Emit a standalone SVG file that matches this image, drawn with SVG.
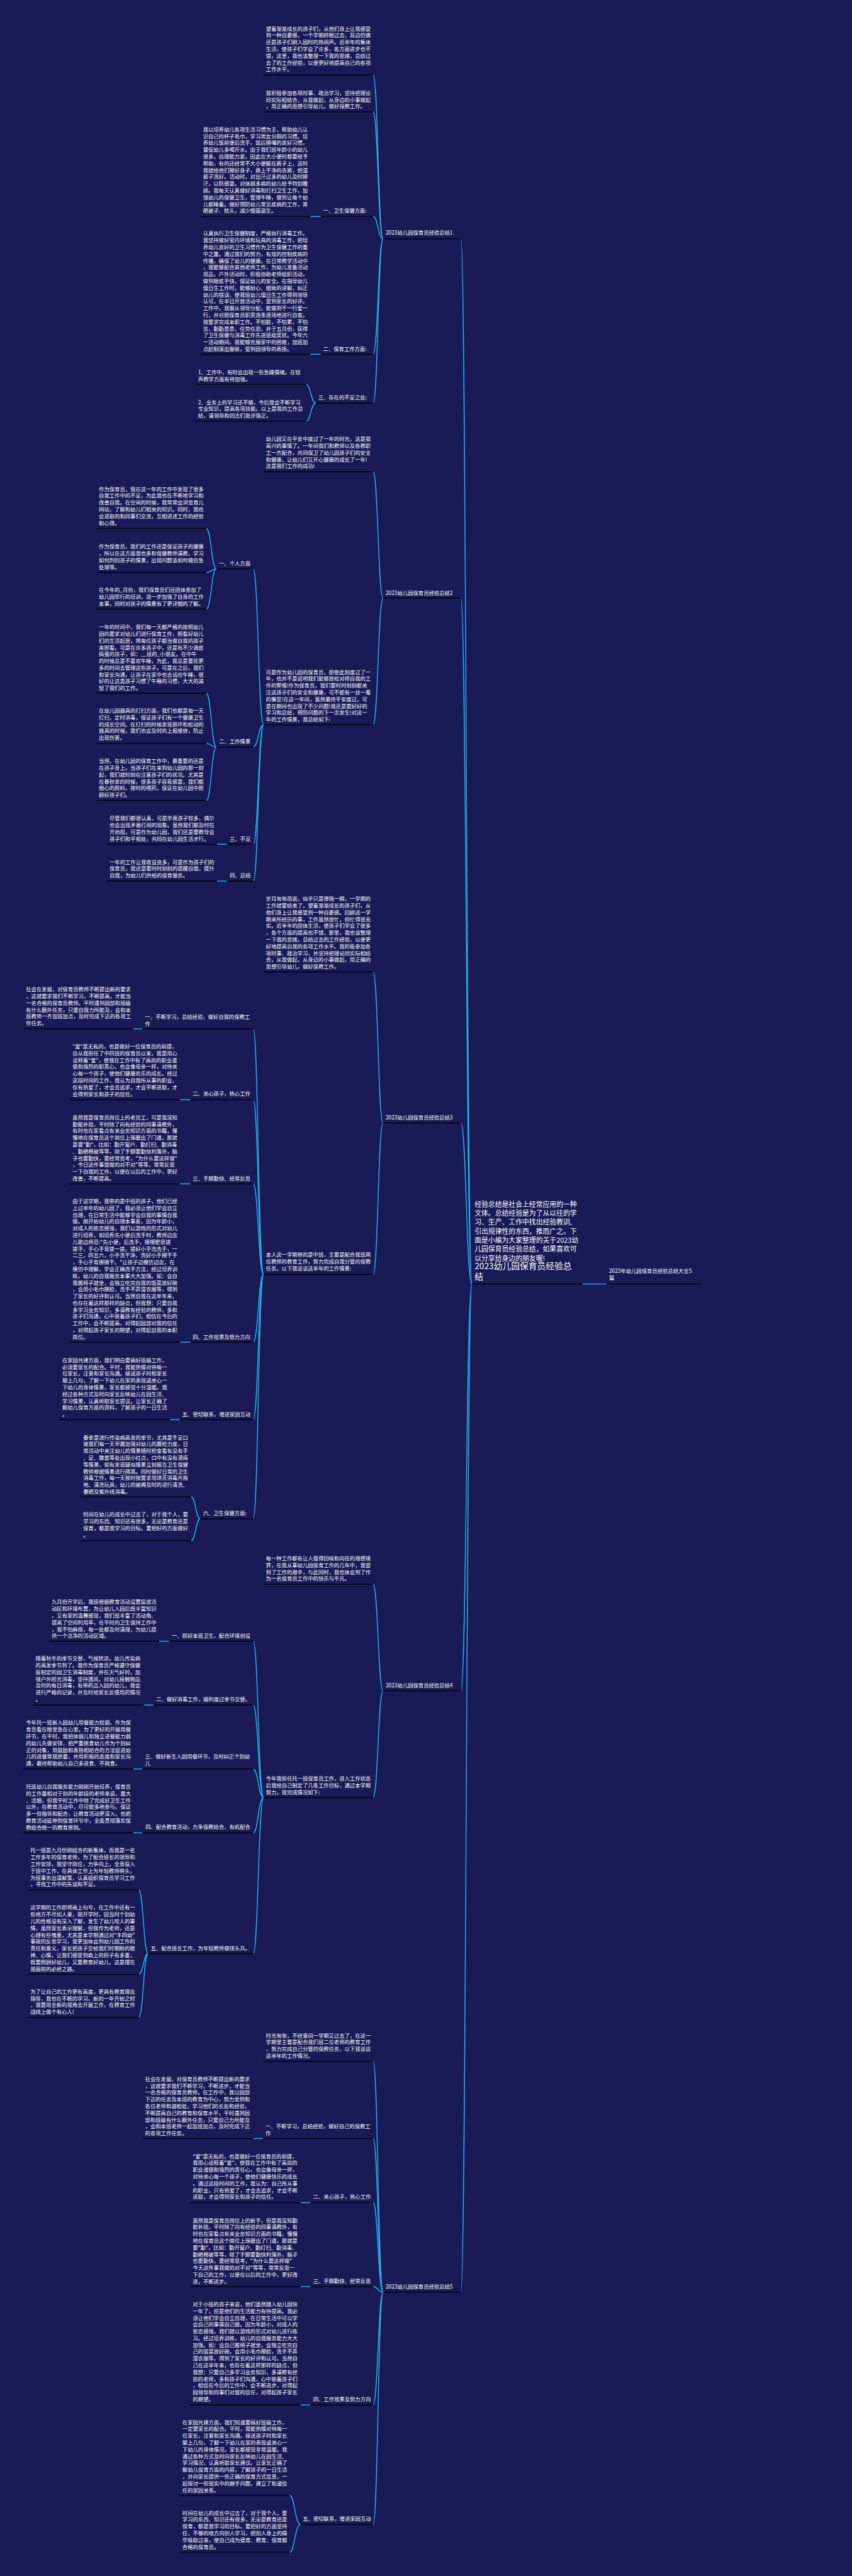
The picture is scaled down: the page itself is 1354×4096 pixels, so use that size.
<svg xmlns="http://www.w3.org/2000/svg" width="1354" height="4096" viewBox="0 0 1354 4096">
<style>
.t{font-family:"Noto Sans CJK SC","Liberation Sans",sans-serif;font-size:15.75px;fill:#ffffff}
.rd{font-family:"Noto Sans CJK SC","Liberation Sans",sans-serif;font-size:20.5px;fill:#ffffff}
.rt{font-family:"Noto Sans CJK SC","Liberation Sans",sans-serif;font-size:26px;fill:#ffffff}
.u{stroke:#06061c;stroke-width:3.5}
.c{fill:none;stroke:#27b6ef;stroke-width:2.6}
</style>
<rect x="0" y="0" width="1354" height="4096" fill="#1a1a57"/>
<g transform="scale(0.52891)">
<g id="connectors">
<path class="c" d="M1418 3860 C1401 3860 1401 718 1385 718"/>
<path class="c" d="M1418 3860 C1401 3860 1401 1798 1385 1798"/>
<path class="c" d="M1418 3860 C1401 3860 1401 3376 1385 3376"/>
<path class="c" d="M1418 3860 C1401 3860 1401 5083 1385 5083"/>
<path class="c" d="M1418 3860 C1401 3860 1401 6891 1385 6891"/>
<path class="c" d="M1822 3860 L1750 3860"/>
<path class="c" d="M1151 718 C1136 718 1136 225 1121 225"/>
<path class="c" d="M1151 718 C1136 718 1136 336 1121 336"/>
<path class="c" d="M1151 718 C1136 718 1136 651 1121 651"/>
<path class="c" d="M1151 718 C1136 718 1136 1065 1121 1065"/>
<path class="c" d="M1151 718 C1136 718 1136 1212 1121 1212"/>
<path class="c" d="M964 651 L933 651"/>
<path class="c" d="M964 1065 L933 1065"/>
<path class="c" d="M949 1212 C934 1212 934 1156 920 1156"/>
<path class="c" d="M949 1212 C934 1212 934 1266 920 1266"/>
<path class="c" d="M1151 1798 C1136 1798 1136 1418 1121 1418"/>
<path class="c" d="M1151 1798 C1136 1798 1136 2179 1121 2179"/>
<path class="c" d="M792 2179 C776 2179 776 1710 761 1710"/>
<path class="c" d="M792 2179 C776 2179 776 2246 761 2246"/>
<path class="c" d="M792 2179 C776 2179 776 2538 761 2538"/>
<path class="c" d="M792 2179 C776 2179 776 2649 761 2649"/>
<path class="c" d="M650 1710 C635 1710 635 1589 620 1589"/>
<path class="c" d="M650 1710 C635 1710 635 1721 620 1721"/>
<path class="c" d="M650 1710 C635 1710 635 1831 620 1831"/>
<path class="c" d="M650 2246 C635 2246 635 2084 620 2084"/>
<path class="c" d="M650 2246 C635 2246 635 2235 620 2235"/>
<path class="c" d="M650 2246 C635 2246 635 2407 620 2407"/>
<path class="c" d="M682 2538 L652 2538"/>
<path class="c" d="M682 2649 L652 2649"/>
<path class="c" d="M1151 3376 C1136 3376 1136 2922 1121 2922"/>
<path class="c" d="M1151 3376 C1136 3376 1136 3831 1121 3831"/>
<path class="c" d="M792 3831 C776 3831 776 3093 761 3093"/>
<path class="c" d="M792 3831 C776 3831 776 3306 761 3306"/>
<path class="c" d="M792 3831 C776 3831 776 3559 761 3559"/>
<path class="c" d="M792 3831 C776 3831 776 4035 761 4035"/>
<path class="c" d="M792 3831 C776 3831 776 4268 761 4268"/>
<path class="c" d="M792 3831 C776 3831 776 4566 761 4566"/>
<path class="c" d="M428 3093 L400 3093"/>
<path class="c" d="M572 3306 L541 3306"/>
<path class="c" d="M572 3559 L541 3559"/>
<path class="c" d="M572 4035 L541 4035"/>
<path class="c" d="M540 4268 L511 4268"/>
<path class="c" d="M602 4566 C588 4566 588 4500 574 4500"/>
<path class="c" d="M602 4566 C588 4566 588 4632 574 4632"/>
<path class="c" d="M1151 5083 C1136 5083 1136 4763 1121 4763"/>
<path class="c" d="M1151 5083 C1136 5083 1136 5404 1121 5404"/>
<path class="c" d="M792 5404 C776 5404 776 4934 761 4934"/>
<path class="c" d="M792 5404 C776 5404 776 5126 761 5126"/>
<path class="c" d="M792 5404 C776 5404 776 5318 761 5318"/>
<path class="c" d="M792 5404 C776 5404 776 5510 761 5510"/>
<path class="c" d="M792 5404 C776 5404 776 5873 761 5873"/>
<path class="c" d="M508 4934 L478 4934"/>
<path class="c" d="M461 5126 L432 5126"/>
<path class="c" d="M428 5318 L400 5318"/>
<path class="c" d="M428 5510 L400 5510"/>
<path class="c" d="M445 5873 C431 5873 431 5682 417 5682"/>
<path class="c" d="M445 5873 C431 5873 431 5935 417 5935"/>
<path class="c" d="M445 5873 C431 5873 431 6065 417 6065"/>
<path class="c" d="M1151 6891 C1136 6891 1136 6197 1121 6197"/>
<path class="c" d="M1151 6891 C1136 6891 1136 6429 1121 6429"/>
<path class="c" d="M1151 6891 C1136 6891 1136 6622 1121 6622"/>
<path class="c" d="M1151 6891 C1136 6891 1136 6874 1121 6874"/>
<path class="c" d="M1151 6891 C1136 6891 1136 7230 1121 7230"/>
<path class="c" d="M1151 6891 C1136 6891 1136 7589 1121 7589"/>
<path class="c" d="M790 6429 L761 6429"/>
<path class="c" d="M933 6622 L903 6622"/>
<path class="c" d="M933 6874 L903 6874"/>
<path class="c" d="M933 7230 L903 7230"/>
<path class="c" d="M903 7589 C886 7589 886 7502 870 7502"/>
<path class="c" d="M903 7589 C886 7589 886 7673 870 7673"/>
</g>

<g id="main">
<text class="t" x="1830" y="3826"><tspan x="1830" dy="0">2023年幼儿园保育员经验总结大全5</tspan><tspan x="1830" dy="21">篇</tspan></text>
<line class="u" x1="1822" y1="3860" x2="2110" y2="3860"/>
</g>
<g id="root">
<text class="rd" x="1426" y="3628"><tspan x="1426" dy="0">经验总结是社会上经常应用的一种</tspan><tspan x="1426" dy="27">文体。总结经验是为了从以往的学</tspan><tspan x="1426" dy="27">习、生产、工作中找出经验教训,</tspan><tspan x="1426" dy="27">引出规律性的东西，推而广之。下</tspan><tspan x="1426" dy="27">面是小编为大家整理的关于2023幼</tspan><tspan x="1426" dy="27">儿园保育员经验总结，如果喜欢可</tspan><tspan x="1426" dy="27">以分享给身边的朋友喔!</tspan></text>
<text class="rt" x="1426" y="3816"><tspan x="1426" dy="0">2023幼儿园保育员经验总</tspan><tspan x="1426" dy="31">结</tspan></text>
<line class="u" x1="1418" y1="3860" x2="1750" y2="3860"/>
</g>

<g id="s1">
<text class="t" x="1159" y="706">2023幼儿园保育员经验总结1</text>
<line class="u" x1="1151" y1="718" x2="1385" y2="718"/>
</g>
<g id="a1">
<text class="t" x="799" y="92"><tspan x="799" dy="0">望着渐渐成长的孩子们，从他们身上让我感受</tspan><tspan x="799" dy="20.4">到一种自豪感，一个学期转眼过去，耳边仿佛</tspan><tspan x="799" dy="20.4">还是孩子们刚入园时的热闹声。近半年的集体</tspan><tspan x="799" dy="20.4">生活，使孩子们学会了许多，各方面进步也不</tspan><tspan x="799" dy="20.4">错，这里，我也该整理一下我的思绪，总结过</tspan><tspan x="799" dy="20.4">去了的工作经验，以便更好地提高自己的各项</tspan><tspan x="799" dy="20.4">工作水平。</tspan></text>
<line class="u" x1="792" y1="225" x2="1121" y2="225"/>
</g>
<g id="a2">
<text class="t" x="799" y="285"><tspan x="799" dy="0">我积极参加各项时事、政治学习，坚持把理论</tspan><tspan x="799" dy="20.4">同实际相结合，从我做起，从身边的小事做起</tspan><tspan x="799" dy="20.4">，用正确的思想引导幼儿，做好保教工作。</tspan></text>
<line class="u" x1="792" y1="336" x2="1121" y2="336"/>
</g>
<g id="a3">
<text class="t" x="971" y="639">一、卫生保健方面:</text>
<line class="u" x1="964" y1="651" x2="1121" y2="651"/>
</g>
<g id="a3a">
<text class="t" x="610" y="395"><tspan x="610" dy="0">我以培养幼儿各项生活习惯为主，帮助幼儿认</tspan><tspan x="610" dy="20.4">识自己的杯子毛巾，学习男女分厕的习惯。培</tspan><tspan x="610" dy="20.4">养幼儿饭前便后洗手，饭后擦嘴的良好习惯，</tspan><tspan x="610" dy="20.4">督促幼儿多喝开水。由于我们班年龄小的幼儿</tspan><tspan x="610" dy="20.4">很多，自理能力差，因此在大小便时都要给予</tspan><tspan x="610" dy="20.4">帮助，有的还经常不大小便解在裤子上，这时</tspan><tspan x="610" dy="20.4">我就给他们擦好身子，换上干净的衣裤，把湿</tspan><tspan x="610" dy="20.4">裤子洗好。活动时，对出汗过多的幼儿及时擦</tspan><tspan x="610" dy="20.4">汗，以防感冒。对体弱多病的幼儿给予特别瞻</tspan><tspan x="610" dy="20.4">顾。我每天认真做好消毒和打扫卫生工作，加</tspan><tspan x="610" dy="20.4">强幼儿的保健卫生，管理午睡，做到让每个幼</tspan><tspan x="610" dy="20.4">儿都睡着。做好预防幼儿常见疾病的工作，常</tspan><tspan x="610" dy="20.4">晒被子、枕头，减少细菌滋生。</tspan></text>
<line class="u" x1="603" y1="651" x2="933" y2="651"/>
</g>
<g id="a4">
<text class="t" x="971" y="1055">二、保育工作方面:</text>
<line class="u" x1="964" y1="1065" x2="1121" y2="1065"/>
</g>
<g id="a4a">
<text class="t" x="610" y="708"><tspan x="610" dy="0">认真执行卫生保健制度，严格执行消毒工作。</tspan><tspan x="610" dy="20.4">我坚持做好室内环境和玩具的消毒工作，把培</tspan><tspan x="610" dy="20.4">养幼儿良好的卫生习惯作为卫生保健工作的重</tspan><tspan x="610" dy="20.4">中之重。通过我们的努力，有效的控制疾病的</tspan><tspan x="610" dy="20.4">传播，确保了幼儿的健康。在日常教学活动中</tspan><tspan x="610" dy="20.4">，我能够配合其他老师工作，为幼儿准备活动</tspan><tspan x="610" dy="20.4">用品，户外活动时，积极协助老师组织活动，</tspan><tspan x="610" dy="20.4">做到眼疾手快，保证幼儿的安全。在指导幼儿</tspan><tspan x="610" dy="20.4">值日生工作时，能够耐心、细致的讲解，纠正</tspan><tspan x="610" dy="20.4">幼儿的错误，使我班幼儿值日生工作得到领导</tspan><tspan x="610" dy="20.4">认可，在半日开放活动中，受到家长的好评。</tspan><tspan x="610" dy="20.4">工作中，我服从领导分配，能做到干一行爱一</tspan><tspan x="610" dy="20.4">行，并对照保育员职责逐条逐项地进行自查。</tspan><tspan x="610" dy="20.4">按要求完成本职工作。不怕脏，不怕累，不怕</tspan><tspan x="610" dy="20.4">苦，勤勤恳恳，任劳任怨，并于五月份，获得</tspan><tspan x="610" dy="20.4">了卫生保健与消毒工作先进班组奖状。今年六</tspan><tspan x="610" dy="20.4">一活动期间，我能够克服家中的困难，加班加</tspan><tspan x="610" dy="20.4">点赶制演出服装，受到园领导的表扬。</tspan></text>
<line class="u" x1="603" y1="1065" x2="933" y2="1065"/>
</g>
<g id="a5">
<text class="t" x="956" y="1201">三、存在的不足之处:</text>
<line class="u" x1="949" y1="1212" x2="1121" y2="1212"/>
</g>
<g id="a5a">
<text class="t" x="595" y="1125"><tspan x="595" dy="0">1、工作中，有时会出现一些急躁情绪。在轻</tspan><tspan x="595" dy="20.4">声教学方面有待加强。</tspan></text>
<line class="u" x1="587" y1="1156" x2="920" y2="1156"/>
</g>
<g id="a5b">
<text class="t" x="595" y="1215"><tspan x="595" dy="0">2、业务上的学习还不够，今后我会不断学习</tspan><tspan x="595" dy="20.4">专业知识，提高各项技能。以上是我的工作总</tspan><tspan x="595" dy="20.4">结，请领导和同志们批评指正。</tspan></text>
<line class="u" x1="587" y1="1266" x2="920" y2="1266"/>
</g>

<g id="s2">
<text class="t" x="1159" y="1788">2023幼儿园保育员经验总结2</text>
<line class="u" x1="1151" y1="1798" x2="1385" y2="1798"/>
</g>
<g id="b1">
<text class="t" x="799" y="1326"><tspan x="799" dy="0">幼儿园又在平安中度过了一年的时光，这是我</tspan><tspan x="799" dy="20.4">高兴的事情了。一年间我们和教师以及各教职</tspan><tspan x="799" dy="20.4">工一齐配合，共同保卫了幼儿园孩子们的安全</tspan><tspan x="799" dy="20.4">和健康，让幼儿们又开心健康的成长了一年!</tspan><tspan x="799" dy="20.4">这是我们工作的成功!</tspan></text>
<line class="u" x1="792" y1="1418" x2="1121" y2="1418"/>
</g>
<g id="b0">
<text class="t" x="799" y="2026"><tspan x="799" dy="0">可是作为幼儿园的保育员，即使此刻度过了一</tspan><tspan x="799" dy="20.4">年，也并不是说明我们能够放松对将自我的工</tspan><tspan x="799" dy="20.4">作的警惕!作为保育员，我们要时时刻刻都关</tspan><tspan x="799" dy="20.4">注这孩子们的安全和健康，可不能有一丝一毫</tspan><tspan x="799" dy="20.4">的懈怠!在这一年间，虽然最终平安度过，可</tspan><tspan x="799" dy="20.4">是在期间也出现了不少问题!我还是要好好的</tspan><tspan x="799" dy="20.4">学习和总结，预防问题的下一次发生!对这一</tspan><tspan x="799" dy="20.4">年的工作情景，我总结如下:</tspan></text>
<line class="u" x1="792" y1="2179" x2="1121" y2="2179"/>
</g>
<g id="b2">
<text class="t" x="658" y="1700">一、个人方面</text>
<line class="u" x1="650" y1="1710" x2="761" y2="1710"/>
</g>
<g id="b2a">
<text class="t" x="297" y="1476"><tspan x="297" dy="0">作为保育员，我在这一年的工作中发现了很多</tspan><tspan x="297" dy="20.4">自我工作中的不足，为此我也在不断地学习和</tspan><tspan x="297" dy="20.4">改善自我。在空闲的时候，我常常会浏览育儿</tspan><tspan x="297" dy="20.4">网站，了解和幼儿们相关的知识。同时，我也</tspan><tspan x="297" dy="20.4">会进取的和同事们交流，互相讲述工作的经验</tspan><tspan x="297" dy="20.4">和心得。</tspan></text>
<line class="u" x1="289" y1="1589" x2="620" y2="1589"/>
</g>
<g id="b2b">
<text class="t" x="297" y="1649"><tspan x="297" dy="0">作为保育员，我们的工作还是保证孩子的健康</tspan><tspan x="297" dy="20.4">，所以在这方面我也多和保健教师请教，学习</tspan><tspan x="297" dy="20.4">如何判别孩子的情景，出现问题该如何做应急</tspan><tspan x="297" dy="20.4">处理等。</tspan></text>
<line class="u" x1="289" y1="1721" x2="620" y2="1721"/>
</g>
<g id="b2c">
<text class="t" x="297" y="1780"><tspan x="297" dy="0">在今年的_月份，我们保育员们还团体参加了</tspan><tspan x="297" dy="20.4">幼儿园举行的培训，进一步加强了自身的工作</tspan><tspan x="297" dy="20.4">本事，同时对孩子的情景有了更详细的了解。</tspan></text>
<line class="u" x1="289" y1="1831" x2="620" y2="1831"/>
</g>
<g id="b3">
<text class="t" x="658" y="2235">二、工作情景</text>
<line class="u" x1="650" y1="2246" x2="761" y2="2246"/>
</g>
<g id="b3a">
<text class="t" x="297" y="1891"><tspan x="297" dy="0">一年的时间中，我们每一天都严格的按照幼儿</tspan><tspan x="297" dy="20.4">园的要求对幼儿们进行保育工作，照看好幼儿</tspan><tspan x="297" dy="20.4">们的生活起居，将每位孩子都当做自我的孩子</tspan><tspan x="297" dy="20.4">来照看。可是在许多孩子中，还是有不少调皮</tspan><tspan x="297" dy="20.4">捣蛋的孩子，如：__班的_小朋友。在中午</tspan><tspan x="297" dy="20.4">的时候总是不喜欢午睡，为此，我总是要花更</tspan><tspan x="297" dy="20.4">多的时间去管理这些孩子。可是在之后，我们</tspan><tspan x="297" dy="20.4">和家长沟通，让孩子在家中也去适应午睡，很</tspan><tspan x="297" dy="20.4">好的让这类孩子习惯了午睡的习惯，大大的减</tspan><tspan x="297" dy="20.4">轻了我们的工作。</tspan></text>
<line class="u" x1="289" y1="2084" x2="620" y2="2084"/>
</g>
<g id="b3b">
<text class="t" x="297" y="2142"><tspan x="297" dy="0">在幼儿园器具的打扫方面，我们也都是每一天</tspan><tspan x="297" dy="20.4">打扫，定时消毒，保证孩子们有一个健康卫生</tspan><tspan x="297" dy="20.4">的成长空间。在打扫的时候发现损坏和松动的</tspan><tspan x="297" dy="20.4">器具的时候，我们也会及时的上报维修，防止</tspan><tspan x="297" dy="20.4">出现伤害。</tspan></text>
<line class="u" x1="289" y1="2235" x2="620" y2="2235"/>
</g>
<g id="b3c">
<text class="t" x="297" y="2294"><tspan x="297" dy="0">当然，在幼儿园的保育工作中，最重要的还是</tspan><tspan x="297" dy="20.4">在孩子身上。当孩子们在来到幼儿园的那一刻</tspan><tspan x="297" dy="20.4">起，我们就时刻在注意孩子们的状况。尤其是</tspan><tspan x="297" dy="20.4">在春秋季的时候，很多孩子容易感冒，我们都</tspan><tspan x="297" dy="20.4">细心的照料，按时的喂药，保证在幼儿园中照</tspan><tspan x="297" dy="20.4">顾好孩子们。</tspan></text>
<line class="u" x1="289" y1="2407" x2="620" y2="2407"/>
</g>
<g id="b4">
<text class="t" x="690" y="2527">三、不足</text>
<line class="u" x1="682" y1="2538" x2="761" y2="2538"/>
</g>
<g id="b4a">
<text class="t" x="329" y="2466"><tspan x="329" dy="0">尽管我们都很认真，可是毕竟孩子较多，偶尔</tspan><tspan x="329" dy="20.4">也会出现矛盾打闹的现象。虽然我们都及时拉</tspan><tspan x="329" dy="20.4">开劝阻，可是作为幼儿园，我们还是要教导会</tspan><tspan x="329" dy="20.4">孩子们和平相处，共同在幼儿园生活才行。</tspan></text>
<line class="u" x1="321" y1="2538" x2="652" y2="2538"/>
</g>
<g id="b5">
<text class="t" x="690" y="2637">四、总结</text>
<line class="u" x1="682" y1="2649" x2="761" y2="2649"/>
</g>
<g id="b5a">
<text class="t" x="329" y="2597"><tspan x="329" dy="0">一年的工作让我收益良多，可是作为孩子们的</tspan><tspan x="329" dy="20.4">保育员，我还是要时时刻刻的提醒自我，提升</tspan><tspan x="329" dy="20.4">自我，为幼儿们供给的保育服务。</tspan></text>
<line class="u" x1="321" y1="2649" x2="652" y2="2649"/>
</g>

<g id="s3">
<text class="t" x="1159" y="3365">2023幼儿园保育员经验总结3</text>
<line class="u" x1="1151" y1="3376" x2="1385" y2="3376"/>
</g>
<g id="c1">
<text class="t" x="799" y="2708"><tspan x="799" dy="0">岁月匆匆而逝，似乎只是弹指一瞬，一学期的</tspan><tspan x="799" dy="20.4">工作就要结束了。望着渐渐成长的孩子们，从</tspan><tspan x="799" dy="20.4">他们身上让我感受到一种自豪感。回顾这一学</tspan><tspan x="799" dy="20.4">期来所经历的事，工作虽然很忙，但忙得很充</tspan><tspan x="799" dy="20.4">实。近半年的团体生活，使孩子们学会了很多</tspan><tspan x="799" dy="20.4">，各个方面的提高也不错，那里，我也该整理</tspan><tspan x="799" dy="20.4">一下我的思绪，总结过去的工作经验，以便更</tspan><tspan x="799" dy="20.4">好地提高自我的各项工作水平。我积极参加各</tspan><tspan x="799" dy="20.4">项时事、政治学习，并坚持把理论同实际相结</tspan><tspan x="799" dy="20.4">合，从我做起，从身边的小事做起，用正确的</tspan><tspan x="799" dy="20.4">思想引导幼儿，做好保教工作。</tspan></text>
<line class="u" x1="792" y1="2922" x2="1121" y2="2922"/>
</g>
<g id="c2">
<text class="t" x="799" y="3778"><tspan x="799" dy="0">本人这一学期带的是中班，主要是配合我班两</tspan><tspan x="799" dy="20.4">位教师的教育工作，努力完成自我分管的保教</tspan><tspan x="799" dy="20.4">任务，以下我谈谈这半年的工作情景:</tspan></text>
<line class="u" x1="792" y1="3831" x2="1121" y2="3831"/>
</g>
<g id="c3">
<text class="t" x="436" y="3063"><tspan x="436" dy="0">一、不断学习，总结经验，做好自我的保教工</tspan><tspan x="436" dy="20.4">作</tspan></text>
<line class="u" x1="428" y1="3093" x2="761" y2="3093"/>
</g>
<g id="c3a">
<text class="t" x="78" y="2980"><tspan x="78" dy="0">社会在发展，对保育员教师不断提出新的要求</tspan><tspan x="78" dy="20.4">，这就要求我们不断学习，不断提高，才能当</tspan><tspan x="78" dy="20.4">一名合格的保育员教师。平时遇到园部和班级</tspan><tspan x="78" dy="20.4">有什么额外任务，只要自我力所能及，会和本</tspan><tspan x="78" dy="20.4">班教师一齐加班加点，及时完成下达的各项工</tspan><tspan x="78" dy="20.4">作任务。</tspan></text>
<line class="u" x1="70" y1="3093" x2="400" y2="3093"/>
</g>
<g id="c4">
<text class="t" x="579" y="3294">二、关心孩子，热心工作</text>
<line class="u" x1="572" y1="3306" x2="761" y2="3306"/>
</g>
<g id="c4a">
<text class="t" x="218" y="3152"><tspan x="218" dy="0">"爱"是无私的，也是做好一位保育员的前提，</tspan><tspan x="218" dy="20.4">自从我担任了中四班的保育员以来，我是用心</tspan><tspan x="218" dy="20.4">诠释着"爱"，使我在工作中有了高尚的职业道</tspan><tspan x="218" dy="20.4">德和强烈的职责心，也会像母亲一样，对待关</tspan><tspan x="218" dy="20.4">心每一个孩子，使他们健康欢乐的成长。经过</tspan><tspan x="218" dy="20.4">这段时间的工作，我认为自我所从事的职业，</tspan><tspan x="218" dy="20.4">仅有热爱了，才会去追求，才会不断进取，才</tspan><tspan x="218" dy="20.4">会得到家长和孩子的信任。</tspan></text>
<line class="u" x1="210" y1="3306" x2="541" y2="3306"/>
</g>
<g id="c5">
<text class="t" x="579" y="3548">三、手脚勤快、经常反思</text>
<line class="u" x1="572" y1="3559" x2="761" y2="3559"/>
</g>
<g id="c5a">
<text class="t" x="218" y="3365"><tspan x="218" dy="0">虽然我是保育员岗位上的老员工，可是我深知</tspan><tspan x="218" dy="20.4">勤能补拙，平时除了向有经验的同事请教外，</tspan><tspan x="218" dy="20.4">有时也在家看点有关业务知识方面的书籍，慢</tspan><tspan x="218" dy="20.4">慢地在保育员这个岗位上琢磨出了门道，那就</tspan><tspan x="218" dy="20.4">是要"勤"，比如：勤开窗户、勤打扫、勤消毒</tspan><tspan x="218" dy="20.4">、勤晒棉被等等，除了手脚要勤快利落外，脑</tspan><tspan x="218" dy="20.4">子也要勤快，要经常思考，"为什么要这样做"</tspan><tspan x="218" dy="20.4">，今日这件事我做的对不对"等等，常常反思</tspan><tspan x="218" dy="20.4">一下自我的工作，以便在以后的工作中，更好</tspan><tspan x="218" dy="20.4">改善，不断提高。</tspan></text>
<line class="u" x1="210" y1="3559" x2="541" y2="3559"/>
</g>
<g id="c6">
<text class="t" x="579" y="4025">四、工作效果及努力方向</text>
<line class="u" x1="572" y1="4035" x2="761" y2="4035"/>
</g>
<g id="c6a">
<text class="t" x="218" y="3617"><tspan x="218" dy="0">由于这学期，我带的是中班的孩子，他们已经</tspan><tspan x="218" dy="20.4">上过半年的幼儿园了，我必须让他们学会自立</tspan><tspan x="218" dy="20.4">自理，在日常生活中能够学会自我的事情自我</tspan><tspan x="218" dy="20.4">做。刚开始幼儿的自理本事差，因为年龄小，</tspan><tspan x="218" dy="20.4">对成人的依恋感强，我们以游戏的形式对幼儿</tspan><tspan x="218" dy="20.4">进行培养，如培养先小便后洗手时，教师边念</tspan><tspan x="218" dy="20.4">儿歌边师范:"先小便，后洗手，擦擦肥皂搓</tspan><tspan x="218" dy="20.4">搓手，手心手背搓一搓，搓好小手洗洗手，一</tspan><tspan x="218" dy="20.4">二三，四五六，小手洗干净，洗好小手擦干手</tspan><tspan x="218" dy="20.4">，手心手背擦擦干。"让孩子边模仿边念，在</tspan><tspan x="218" dy="20.4">模仿中理解，学会正确洗手方法，经过培养训</tspan><tspan x="218" dy="20.4">练，幼儿的自我服务本事大大加强。如：会自</tspan><tspan x="218" dy="20.4">我搬椅子就坐，会独立吃完自我的饭菜放好碗</tspan><tspan x="218" dy="20.4">，会用小毛巾擦脸，洗手不弄湿衣服等，得到</tspan><tspan x="218" dy="20.4">了家长的好评和认可。当然自我在这半年来，</tspan><tspan x="218" dy="20.4">也存在着这样那样的缺点，但我想：只要自我</tspan><tspan x="218" dy="20.4">多学习业务知识，多请教有经验的教师，多和</tspan><tspan x="218" dy="20.4">孩子们沟通，心中装着孩子们，相信在今后的</tspan><tspan x="218" dy="20.4">工作中，会不断提高，对得起园部对我的信任</tspan><tspan x="218" dy="20.4">，对得起孩子家长的期望，对得起自我的本职</tspan><tspan x="218" dy="20.4">岗位。</tspan></text>
<line class="u" x1="210" y1="4035" x2="541" y2="4035"/>
</g>
<g id="c7">
<text class="t" x="548" y="4258">五、密切联系，增进家园互动</text>
<line class="u" x1="540" y1="4268" x2="761" y2="4268"/>
</g>
<g id="c7a">
<text class="t" x="187" y="4095"><tspan x="187" dy="0">在家园共建方面，我们明白要搞好班级工作，</tspan><tspan x="187" dy="20.4">必须要家长的配合。平时，我能热情对待每一</tspan><tspan x="187" dy="20.4">位家长，注意和家长沟通。接送孩子时和家长</tspan><tspan x="187" dy="20.4">聊上几句，了解一下幼儿在家的表现或关心一</tspan><tspan x="187" dy="20.4">下幼儿的身体情景，家长都感觉十分温暖。我</tspan><tspan x="187" dy="20.4">经过各种方式及时向家长反映幼儿在园生活、</tspan><tspan x="187" dy="20.4">学习情景，认真听取家长提议。让家长正确了</tspan><tspan x="187" dy="20.4">解幼儿保育方面的资料，了解孩子的一日生活</tspan><tspan x="187" dy="20.4">。</tspan></text>
<line class="u" x1="179" y1="4268" x2="511" y2="4268"/>
</g>
<g id="c8">
<text class="t" x="610" y="4555">六、卫生保健方面:</text>
<line class="u" x1="602" y1="4566" x2="761" y2="4566"/>
</g>
<g id="c8a">
<text class="t" x="250" y="4327"><tspan x="250" dy="0">春季是流行传染病高发的季节，尤其是手足口</tspan><tspan x="250" dy="20.4">玻我们每一天早晨加强对幼儿的晨检力度，日</tspan><tspan x="250" dy="20.4">常活动中关注幼儿的情景随时检查看有没有手</tspan><tspan x="250" dy="20.4">、足、膝盖等处出现小红点，口中有没有溃疡</tspan><tspan x="250" dy="20.4">等情景，如有发现疑似情景立刻报告卫生保健</tspan><tspan x="250" dy="20.4">教师根据情景进行隔离。同时做好日常的卫生</tspan><tspan x="250" dy="20.4">消毒工作，每一天按时按要求用琪芳消毒片拖</tspan><tspan x="250" dy="20.4">地、清洗玩具，幼儿的被褥及时的进行清洗、</tspan><tspan x="250" dy="20.4">暴晒及紫外线消毒。</tspan></text>
<line class="u" x1="242" y1="4500" x2="574" y2="4500"/>
</g>
<g id="c8b">
<text class="t" x="250" y="4559"><tspan x="250" dy="0">时间在幼儿的成长中过去了，对于我个人，要</tspan><tspan x="250" dy="20.4">学习的东西、知识还有很多，无论是教育还是</tspan><tspan x="250" dy="20.4">保育，都是我学习的目标。要把好的方面做好</tspan><tspan x="250" dy="20.4">。</tspan></text>
<line class="u" x1="242" y1="4632" x2="574" y2="4632"/>
</g>

<g id="s4">
<text class="t" x="1159" y="5073">2023幼儿园保育员经验总结4</text>
<line class="u" x1="1151" y1="5083" x2="1385" y2="5083"/>
</g>
<g id="d1">
<text class="t" x="799" y="4691"><tspan x="799" dy="0">每一种工作都有让人值得回味和向往的理想境</tspan><tspan x="799" dy="20.4">界，在我从事幼儿园保育工作的几年中，我尝</tspan><tspan x="799" dy="20.4">到了工作的艰辛，与此同时，我也体会到了作</tspan><tspan x="799" dy="20.4">为一名保育员工作中的快乐与平凡。</tspan></text>
<line class="u" x1="792" y1="4763" x2="1121" y2="4763"/>
</g>
<g id="d2">
<text class="t" x="799" y="5353"><tspan x="799" dy="0">今年我担任托一班保育员工作，进入工作状态</tspan><tspan x="799" dy="20.4">后我给自己制定了几条工作目标，通过本学期</tspan><tspan x="799" dy="20.4">努力，现完成情况如下:</tspan></text>
<line class="u" x1="792" y1="5404" x2="1121" y2="5404"/>
</g>
<g id="d3">
<text class="t" x="516" y="4924">一、抓好本班卫生，配合环境创设</text>
<line class="u" x1="508" y1="4934" x2="761" y2="4934"/>
</g>
<g id="d3a">
<text class="t" x="155" y="4822"><tspan x="155" dy="0">九月份开学后，我班根据教育活动设置投放活</tspan><tspan x="155" dy="20.4">动区和环境布置，为让幼儿入园后既丰富知识</tspan><tspan x="155" dy="20.4">，又有家的温馨感觉，我们班丰富了活动角、</tspan><tspan x="155" dy="20.4">提高了空间利用率，在平时的卫生保持工作中</tspan><tspan x="155" dy="20.4">，我不怕麻烦，每一处都及时清理，为幼儿提</tspan><tspan x="155" dy="20.4">供一个洁净的活动区域。</tspan></text>
<line class="u" x1="147" y1="4934" x2="478" y2="4934"/>
</g>
<g id="d4">
<text class="t" x="469" y="5115">二、做好消毒工作，顺利度过季节交替。</text>
<line class="u" x1="461" y1="5126" x2="761" y2="5126"/>
</g>
<g id="d4a">
<text class="t" x="107" y="4992"><tspan x="107" dy="0">随着秋冬的季节交替，气候转凉。幼儿传染病</tspan><tspan x="107" dy="20.4">的高发季节到了。我作为保育员严格遵守保健</tspan><tspan x="107" dy="20.4">医制定的园卫生消毒制度，并在天气好时，加</tspan><tspan x="107" dy="20.4">强户外阳光消毒，坚持通风，对幼儿接触物品</tspan><tspan x="107" dy="20.4">及时的每日消毒，有带药品入园的幼儿，我会</tspan><tspan x="107" dy="20.4">进行严格的记录，并及时给家长反馈用药情况</tspan><tspan x="107" dy="20.4">。</tspan></text>
<line class="u" x1="99" y1="5126" x2="432" y2="5126"/>
</g>
<g id="d5">
<text class="t" x="436" y="5287"><tspan x="436" dy="0">三、做好新生入园用餐环节，及时纠正个别幼</tspan><tspan x="436" dy="20.4">儿</tspan></text>
<line class="u" x1="428" y1="5318" x2="761" y2="5318"/>
</g>
<g id="d5a">
<text class="t" x="78" y="5185"><tspan x="78" dy="0">今年托一班新入园幼儿用餐能力较弱，作为保</tspan><tspan x="78" dy="20.4">育员看在眼里急在心里。为了更好的开展用餐</tspan><tspan x="78" dy="20.4">环节，在平时，我把体弱儿和独立进餐能力弱</tspan><tspan x="78" dy="20.4">的幼儿先做安排，把严重挑食幼儿作为个别纠</tspan><tspan x="78" dy="20.4">正的对象，用鼓励和表扬相结合的方法促进幼</tspan><tspan x="78" dy="20.4">儿的进餐常规质量，并用积极的态度和家长沟</tspan><tspan x="78" dy="20.4">通，最终帮助幼儿自己多进食、不挑食。</tspan></text>
<line class="u" x1="70" y1="5318" x2="400" y2="5318"/>
</g>
<g id="d6">
<text class="t" x="437" y="5499">四、配合教育活动，力争保教结合、有机配合</text>
<line class="u" x1="428" y1="5510" x2="761" y2="5510"/>
</g>
<g id="d6a">
<text class="t" x="78" y="5377"><tspan x="78" dy="0">托班幼儿自我服务能力刚刚开始培养，保育员</tspan><tspan x="78" dy="20.4">的工作量相对于别的年龄段的老师来说，量大</tspan><tspan x="78" dy="20.4">、活细，但我平时工作中除了完成好卫生工作</tspan><tspan x="78" dy="20.4">以外，在教育活动中，尽可能多地参与。保证</tspan><tspan x="78" dy="20.4">多一份指导和配合，让教育活动更深入，也把</tspan><tspan x="78" dy="20.4">教育活动延伸到保育环节中，全面贯彻落实保</tspan><tspan x="78" dy="20.4">教结合统一的教育原则。</tspan></text>
<line class="u" x1="70" y1="5510" x2="400" y2="5510"/>
</g>
<g id="d7">
<text class="t" x="453" y="5863">五、配合班长工作，为年轻教师做排头兵。</text>
<line class="u" x1="445" y1="5873" x2="761" y2="5873"/>
</g>
<g id="d7a">
<text class="t" x="91" y="5569"><tspan x="91" dy="0">托一班是九月份刚组合的新集体，而我是一名</tspan><tspan x="91" dy="20.4">工作多年的保育老师，为了配合班长的领导和</tspan><tspan x="91" dy="20.4">工作安排，我坚守岗位，力争向上，全身投入</tspan><tspan x="91" dy="20.4">于班中工作，在具体工作上为年轻教师带头，</tspan><tspan x="91" dy="20.4">为班事务出谋献策，认真组织保育员学习工作</tspan><tspan x="91" dy="20.4">，寻找工作中的失误和不足。</tspan></text>
<line class="u" x1="84" y1="5682" x2="417" y2="5682"/>
</g>
<g id="d7b">
<text class="t" x="91" y="5741"><tspan x="91" dy="0">这学期的工作即将画上句号，在工作中还有一</tspan><tspan x="91" dy="20.4">些地方不尽如人意，刚开学时，因当时个别幼</tspan><tspan x="91" dy="20.4">儿的性格没有深入了解，发生了幼儿咬人的事</tspan><tspan x="91" dy="20.4">情，虽然家长表示理解，但我作为老师，还是</tspan><tspan x="91" dy="20.4">心理有些愧意，尤其是本学期通过对"丰四幼"</tspan><tspan x="91" dy="20.4">事故的反思学习，我更加体会到幼儿园工作的</tspan><tspan x="91" dy="20.4">责任和意义，家长把孩子交给我们时期盼的眼</tspan><tspan x="91" dy="20.4">神、心情，让我们感受到肩上的担子有多重，</tspan><tspan x="91" dy="20.4">既要照顾好幼儿，又要教育好幼儿，这是摆在</tspan><tspan x="91" dy="20.4">我面前的必经之路。</tspan></text>
<line class="u" x1="84" y1="5935" x2="417" y2="5935"/>
</g>
<g id="d7c">
<text class="t" x="91" y="5993"><tspan x="91" dy="0">为了让自己的工作更有高度，更具有教育理念</tspan><tspan x="91" dy="20.4">指导，我也在不断的学习，新的一年开始之时</tspan><tspan x="91" dy="20.4">，我要用全新的视角去开展工作，在教育工作</tspan><tspan x="91" dy="20.4">战线上做个有心人!</tspan></text>
<line class="u" x1="84" y1="6065" x2="417" y2="6065"/>
</g>

<g id="s5">
<text class="t" x="1159" y="6881">2023幼儿园保育员经验总结5</text>
<line class="u" x1="1151" y1="6891" x2="1385" y2="6891"/>
</g>
<g id="e1">
<text class="t" x="799" y="6125"><tspan x="799" dy="0">时光匆匆，不经意间一学期又过去了，在这一</tspan><tspan x="799" dy="20.4">学期里主要是配合我们班二位老师的教育工作</tspan><tspan x="799" dy="20.4">，努力完成自己分管的保教任务，以下我谈谈</tspan><tspan x="799" dy="20.4">这半年的工作情况。</tspan></text>
<line class="u" x1="792" y1="6197" x2="1121" y2="6197"/>
</g>
<g id="e2">
<text class="t" x="798" y="6399"><tspan x="798" dy="0">一、不断学习，总结经验，做好自己的保教工</tspan><tspan x="798" dy="20.4">作</tspan></text>
<line class="u" x1="790" y1="6429" x2="1121" y2="6429"/>
</g>
<g id="e2a">
<text class="t" x="436" y="6256"><tspan x="436" dy="0">社会在发展，对保育员教师不断提出新的要求</tspan><tspan x="436" dy="20.4">，这就要求我们不断学习，不断进步，才能当</tspan><tspan x="436" dy="20.4">一名合格的保育员教师。在工作中，我以园部</tspan><tspan x="436" dy="20.4">下达的任务及本班的教育为中心，努力坐到和</tspan><tspan x="436" dy="20.4">各位老师和谐相处，学习他们的长处和经验，</tspan><tspan x="436" dy="20.4">不断提高自己的教育和保育水平，平时遇到园</tspan><tspan x="436" dy="20.4">部和班级有什么额外任务，只要自己力所能及</tspan><tspan x="436" dy="20.4">，会和本班老师一起加班加点，及时完成下达</tspan><tspan x="436" dy="20.4">的各项工作任务。</tspan></text>
<line class="u" x1="428" y1="6429" x2="761" y2="6429"/>
</g>
<g id="e3">
<text class="t" x="941" y="6610">二、关心孩子，热心工作</text>
<line class="u" x1="933" y1="6622" x2="1121" y2="6622"/>
</g>
<g id="e3a">
<text class="t" x="579" y="6488"><tspan x="579" dy="0">"爱"是无私的，也是做好一位保育员的前提，</tspan><tspan x="579" dy="20.4">我用心诠释着"爱"，使我在工作中有了高尚的</tspan><tspan x="579" dy="20.4">职业道德和强烈的责任心，也会像母亲一样，</tspan><tspan x="579" dy="20.4">对待关心每一个孩子，使他们健康快乐的成长</tspan><tspan x="579" dy="20.4">。通过这段时间的工作，我认为：自己所从事</tspan><tspan x="579" dy="20.4">的职业，只有热爱了，才会去追求，才会不断</tspan><tspan x="579" dy="20.4">进取，才会得到家长和孩子的信任。</tspan></text>
<line class="u" x1="572" y1="6622" x2="903" y2="6622"/>
</g>
<g id="e4">
<text class="t" x="941" y="6863">三、手脚勤快、经常反思</text>
<line class="u" x1="933" y1="6874" x2="1121" y2="6874"/>
</g>
<g id="e4a">
<text class="t" x="579" y="6681"><tspan x="579" dy="0">虽然我是保育员岗位上的新手，但是我深知勤</tspan><tspan x="579" dy="20.4">能补拙，平时除了向有经验的同事请教外，有</tspan><tspan x="579" dy="20.4">时也在家看点有关业务知识方面的书籍，慢慢</tspan><tspan x="579" dy="20.4">地在保育员这个岗位上琢磨出了门道，那就是</tspan><tspan x="579" dy="20.4">要"勤"，比如：勤开窗户、勤打扫、勤消毒、</tspan><tspan x="579" dy="20.4">勤晒棉被等等，除了手脚要勤快利落外，脑子</tspan><tspan x="579" dy="20.4">也要勤快，要经常思考，"为什么要这样做"</tspan><tspan x="579" dy="20.4">今天这件事我做的对不对"等等，常常反思一</tspan><tspan x="579" dy="20.4">下自己的工作，以便在以后的工作中，更好改</tspan><tspan x="579" dy="20.4">进，不断进步。</tspan></text>
<line class="u" x1="572" y1="6874" x2="903" y2="6874"/>
</g>
<g id="e5">
<text class="t" x="941" y="7218">四、工作效果及努力方向</text>
<line class="u" x1="933" y1="7230" x2="1121" y2="7230"/>
</g>
<g id="e5a">
<text class="t" x="579" y="6933"><tspan x="579" dy="0">对于小班的孩子来说，他们虽然踏入幼儿园快</tspan><tspan x="579" dy="20.4">一年了，但是他们的生活能力有待提高。我必</tspan><tspan x="579" dy="20.4">须让他们学会自立自理，在日常生活中可以学</tspan><tspan x="579" dy="20.4">会自己的事情自己做。因为年龄小，对成人的</tspan><tspan x="579" dy="20.4">依恋感强，我们就以游戏的形式对幼儿进行练</tspan><tspan x="579" dy="20.4">习。经过培养训练，幼儿的自我服务能力大大</tspan><tspan x="579" dy="20.4">加强。如：会自己搬椅子就坐，会独立吃完自</tspan><tspan x="579" dy="20.4">己的饭菜放好碗，会用小毛巾擦脸，洗手不弄</tspan><tspan x="579" dy="20.4">湿衣服等，得到了家长的好评和认可。当然自</tspan><tspan x="579" dy="20.4">己在这半年来，也存在着这样那样的缺点，但</tspan><tspan x="579" dy="20.4">我想：只要自己多学习业务知识，多请教有经</tspan><tspan x="579" dy="20.4">验的老师，多和孩子们沟通，心中装着孩子们</tspan><tspan x="579" dy="20.4">，相信在今后的工作中，会不断进步，对得起</tspan><tspan x="579" dy="20.4">园领导和同事们对我的信任，对得起孩子家长</tspan><tspan x="579" dy="20.4">的期望。</tspan></text>
<line class="u" x1="572" y1="7230" x2="903" y2="7230"/>
</g>
<g id="e6">
<text class="t" x="910" y="7577">五、密切联系，增进家园互动</text>
<line class="u" x1="903" y1="7589" x2="1121" y2="7589"/>
</g>
<g id="e6a">
<text class="t" x="548" y="7288"><tspan x="548" dy="0">在家园共建方面，我们知道要搞好班级工作，</tspan><tspan x="548" dy="20.4">一定要家长的配合。平时，我能热情对待每一</tspan><tspan x="548" dy="20.4">位家长，注意和家长沟通。接送孩子时和家长</tspan><tspan x="548" dy="20.4">聊上几句，了解一下幼儿在家的表现或关心一</tspan><tspan x="548" dy="20.4">下幼儿的身体情况，家长都感觉非常温暖。我</tspan><tspan x="548" dy="20.4">通过各种方式及时向家长反映幼儿在园生活、</tspan><tspan x="548" dy="20.4">学习情况，认真听取家长建议。让家长正确了</tspan><tspan x="548" dy="20.4">解幼儿保育方面的内容，了解孩子的一日生活</tspan><tspan x="548" dy="20.4">，并向家长提供一些正确的保育方式信息，一</tspan><tspan x="548" dy="20.4">起探讨一些现实中的棘手问题，建立了和谐信</tspan><tspan x="548" dy="20.4">任的家园关系。</tspan></text>
<line class="u" x1="540" y1="7502" x2="870" y2="7502"/>
</g>
<g id="e6b">
<text class="t" x="548" y="7560"><tspan x="548" dy="0">时间在幼儿的成长中过去了，对于我个人，要</tspan><tspan x="548" dy="20.4">学习的东西、知识还有很多，无论是教育还是</tspan><tspan x="548" dy="20.4">保育，都是我学习的目标。要把好的方面坚持</tspan><tspan x="548" dy="20.4">住，不够的地方向别人学习，把别人身上的精</tspan><tspan x="548" dy="20.4">华吸取过来，使自己成为德育、教育、保育都</tspan><tspan x="548" dy="20.4">合格的保育员。</tspan></text>
<line class="u" x1="540" y1="7673" x2="870" y2="7673"/>
</g>
</g>
</svg>
